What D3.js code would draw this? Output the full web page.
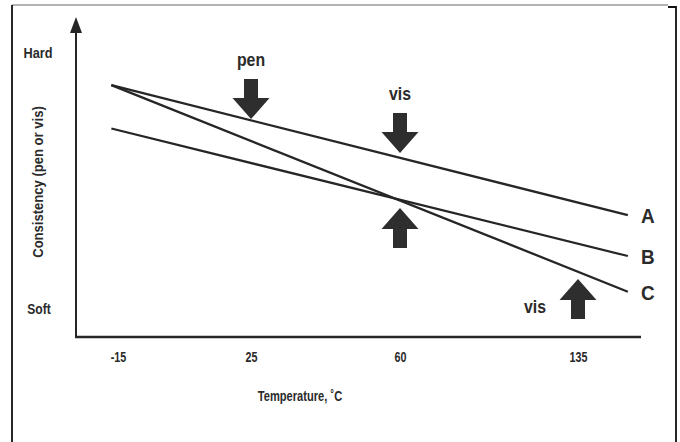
<!DOCTYPE html>
<html>
<head>
<meta charset="utf-8">
<script src="https://cdn.jsdelivr.net/npm/d3@7"></script>
<style>
  body { margin: 0; background: #fff; }
  svg { display: block; }
  text { font-family: 'Liberation Sans', Arial, sans-serif; font-weight: bold; fill: #2b2b2b; }
</style>
</head>
<body>
<svg id="chart" width="680" height="442"></svg>
<script>
// temperature ticks (deg C) - the axis is schematic, not evenly spaced
const tempTicks = [-15, 25, 60, 135]
// consistency runs 0 (soft) .. 100 (hard)
const lineNames = ['A', 'B', 'C']
const lineStartTemp = [-17, -17, -17]
const lineEndTemp = [156, 156, 156]
const lineStartCons = [87, 70, 87]
const lineEndCons = [36, 20, 6]
// arrows: where the pen / vis measurement sits on the curves
const arrowTemp = [25, 60, 60, 135]
const arrowCons = [73.7, 60.4, 38.8, 11]
const arrowDir = ['down', 'down', 'up', 'up']
const arrowLabel = ['pen', 'vis', '', 'vis']

const svg = d3.select('#chart')
const ink = '#262626'

// the original type is a condensed bold face: squeeze each label horizontally
let condense = function (sel, k) {
  sel.each(function () {
    let w = this.getComputedTextLength()
    d3.select(this).attr('textLength', w * k).attr('lengthAdjust', 'spacingAndGlyphs')
  })
}

// frame of the scanned figure
svg.append('line').attr('x1', 12).attr('x2', 668).attr('y1', 5).attr('y2', 5)
  .style('stroke', '#9a9a9a').style('stroke-width', 1.5)
svg.append('line').attr('x1', 12).attr('x2', 12).attr('y1', 5).attr('y2', 442)
  .style('stroke', '#111').style('stroke-width', 1.8)
svg.append('path').attr('d', 'M668,7 H676 V442')
  .style('fill', 'none').style('stroke', '#111').style('stroke-width', 1.8)

let x = d3.scaleLinear()
  .domain(tempTicks)
  .range([118, 251, 400, 578])
let y = d3.scaleLinear()
  .domain([0, 100])
  .range([307, 52])

// axes
let g = svg.append('g')
g.append('line').attr('x1', 76).attr('x2', 76).attr('y1', 28).attr('y2', 338)
  .style('stroke', ink).style('stroke-width', 2)
g.append('path').attr('d', 'M76,17 L82,33 L70,33 Z').style('fill', ink)
g.append('line').attr('x1', 75).attr('x2', 641).attr('y1', 337).attr('y2', 337)
  .style('stroke', ink).style('stroke-width', 2.6)

let xAxis = svg.append('g')
  .attr('transform', 'translate(0,337)')
  .call(d3.axisBottom(x).tickValues(tempTicks).tickSize(0).tickPadding(15).tickFormat(d => String(d)))
xAxis.select('.domain').remove()
xAxis.attr('font-family', null).attr('font-size', null)
xAxis.selectAll('text')
  .style('font-size', '14.5px')
  .attr('fill', null)
  .call(condense, 0.74)

svg.append('text')
  .attr('x', 300).attr('y', 401)
  .attr('text-anchor', 'middle')
  .style('font-size', '15px')
  .text('Temperature, ˚C')
  .call(condense, 0.74)

svg.append('text')
  .attr('x', 38).attr('y', y(100) + 6)
  .attr('text-anchor', 'middle')
  .style('font-size', '15.5px')
  .text('Hard')
  .call(condense, 0.82)
svg.append('text')
  .attr('x', 39).attr('y', y(0) + 7)
  .attr('text-anchor', 'middle')
  .style('font-size', '15.5px')
  .text('Soft')
  .call(condense, 0.78)
svg.append('text')
  .attr('transform', 'translate(43,182) rotate(-90)')
  .attr('text-anchor', 'middle')
  .style('font-size', '15px')
  .text('Consistency (pen or vis)')
  .call(condense, 0.87)

// the three consistency lines
let lines = lineNames.map((n, i) => ({
  name: n,
  pts: [{t: lineStartTemp[i], c: lineStartCons[i]}, {t: lineEndTemp[i], c: lineEndCons[i]}]
}))
let lineGen = d3.line().x(d => x(d.t)).y(d => y(d.c))
svg.append('g').selectAll('path')
  .data(lines)
  .enter()
  .append('path')
  .attr('d', d => lineGen(d.pts))
  .style('fill', 'none')
  .style('stroke', ink)
  .style('stroke-width', 2.3)
svg.append('g').selectAll('text')
  .data(lines)
  .enter()
  .append('text')
  .attr('x', d => x(d.pts[1].t) + 20)
  .attr('y', d => y(d.pts[1].c) + 8)
  .attr('text-anchor', 'middle')
  .style('font-size', '21px')
  .text(d => d.name)
  .call(condense, 0.9)

// block arrows
let arrows = arrowTemp.map((t, i) => ({t: t, c: arrowCons[i], dir: arrowDir[i], label: arrowLabel[i]}))
let arrowPath = function (d) {
  let tx = x(d.t), ty = y(d.c)
  let s = d.dir === 'down' ? -1 : 1 // body extends up (-) for down arrows
  let head = 21, len = 40, hw = 18.5, sw = 7
  return `M${tx},${ty} L${tx + hw},${ty + s * head} L${tx + sw},${ty + s * head} ` +
    `L${tx + sw},${ty + s * len} L${tx - sw},${ty + s * len} L${tx - sw},${ty + s * head} ` +
    `L${tx - hw},${ty + s * head} Z`
}
svg.append('g').selectAll('path')
  .data(arrows)
  .enter()
  .append('path')
  .attr('d', arrowPath)
  .style('fill', '#2e2e2e')
svg.append('g').selectAll('text')
  .data(arrows.filter(d => d.label !== ''))
  .enter()
  .append('text')
  .attr('x', d => d.dir === 'down' ? x(d.t) : x(d.t) - 43)
  .attr('y', d => d.dir === 'down' ? y(d.c) - 53 : y(d.c) + 34)
  .attr('text-anchor', 'middle')
  .style('font-size', '18px')
  .text(d => d.label)
  .call(condense, 0.88)
</script>
</body>
</html>
